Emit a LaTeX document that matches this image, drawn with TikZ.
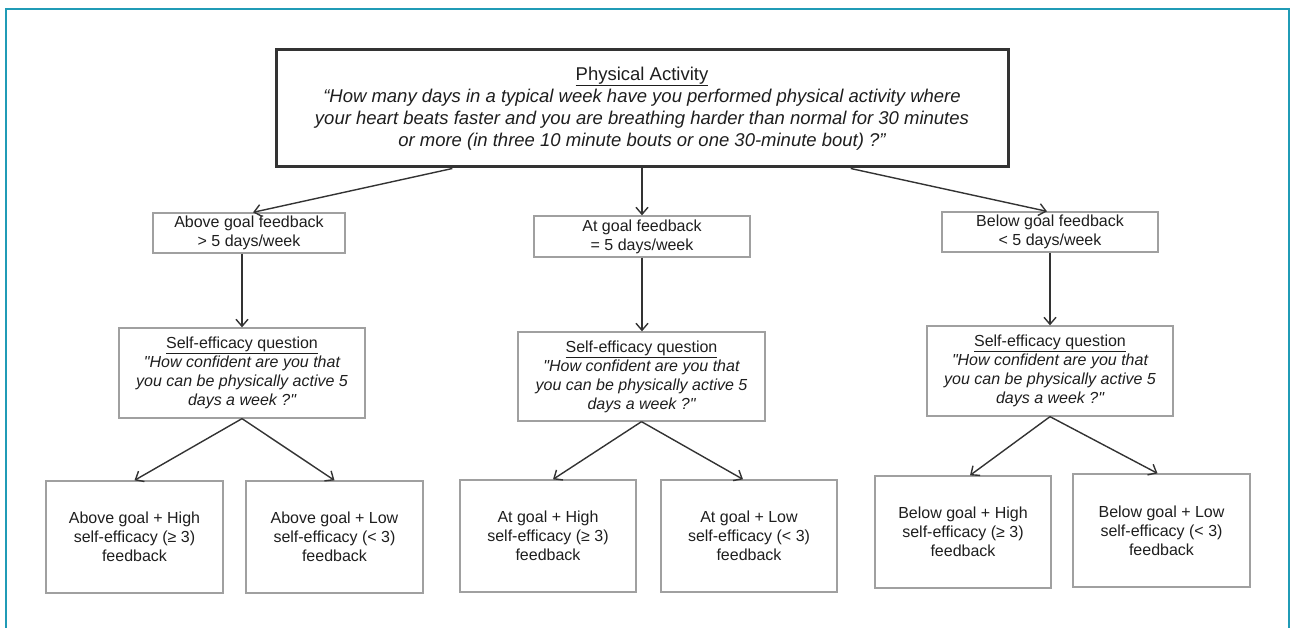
\documentclass[tikz,border=0pt]{standalone}
\usepackage{fontspec}
\setmainfont{Liberation Sans}[Ligatures=TeXOff]
\usetikzlibrary{arrows.meta,calc}
\definecolor{framecol}{RGB}{32,155,182}
\definecolor{boxgray}{RGB}{160,160,160}
\definecolor{dark}{RGB}{51,51,51}
\definecolor{txt}{RGB}{30,30,30}
\begin{document}
\begin{tikzpicture}[x=1pt,y=-1pt,
  gbox/.style={draw=boxgray, line width=1.3pt, align=center, inner sep=0pt,
    text=txt, font=\fontsize{16}{19}\selectfont},
  topbox/.style={draw=dark, line width=3pt, align=center, inner sep=0pt,
    text=txt, font=\fontsize{18.5}{22}\selectfont},
  arr/.style={draw=dark, line width=1.4pt, -{Straight Barb[length=7pt,width=12pt]}}
]
\useasboundingbox (0,0) rectangle (1290,628);
\draw[framecol, line width=2.2pt] (6,630) -- (6,9) -- (1289,9) -- (1289,630);

\node[topbox, minimum width=732pt, minimum height=117pt] (top) at (642,108.5)
  {\underline{Physical Activity}\\
   \itshape “How many days in a typical week have you performed physical activity where\\
   \itshape your heart beats faster and you are breathing harder than normal for 30 minutes\\
   \itshape or more (in three 10 minute bouts or one 30-minute bout) ?”};

\node[gbox, minimum width=192pt, minimum height=40pt] (above) at (249,233)
  {Above goal feedback\\ > 5 days/week};
\node[gbox, minimum width=216pt, minimum height=41pt] (atgoal) at (642,236.5)
  {At goal feedback\\ = 5 days/week};
\node[gbox, minimum width=216pt, minimum height=40pt] (below) at (1050,232)
  {Below goal feedback\\ < 5 days/week};

\node[gbox, minimum width=246pt, minimum height=90pt] (se1) at (242,373)
  {\underline{Self-efficacy question}\\
   \itshape "How confident are you that\\ \itshape you can be physically active 5\\ \itshape days a week ?"};
\node[gbox, minimum width=247pt, minimum height=89pt] (se2) at (641.5,376.5)
  {\underline{Self-efficacy question}\\
   \itshape "How confident are you that\\ \itshape you can be physically active 5\\ \itshape days a week ?"};
\node[gbox, minimum width=246pt, minimum height=90pt] (se3) at (1050,371)
  {\underline{Self-efficacy question}\\
   \itshape "How confident are you that\\ \itshape you can be physically active 5\\ \itshape days a week ?"};

\node[gbox, minimum width=177pt, minimum height=112pt] (b1) at (134.5,537)
  {Above goal + High\\ self-efficacy (≥ 3)\\ feedback};
\node[gbox, minimum width=177pt, minimum height=112pt] (b2) at (334.5,537)
  {Above goal + Low\\ self-efficacy (< 3)\\ feedback};
\node[gbox, minimum width=176pt, minimum height=112pt] (b3) at (548,536)
  {At goal + High\\ self-efficacy (≥ 3)\\ feedback};
\node[gbox, minimum width=176pt, minimum height=112pt] (b4) at (749,536)
  {At goal + Low\\ self-efficacy (< 3)\\ feedback};
\node[gbox, minimum width=176pt, minimum height=112pt] (b5) at (963,532)
  {Below goal + High\\ self-efficacy (≥ 3)\\ feedback};
\node[gbox, minimum width=177pt, minimum height=113pt] (b6) at (1161.5,530.5)
  {Below goal + Low\\ self-efficacy (< 3)\\ feedback};

\draw[arr] ($(top.south west)!0.242!(top.south east)$) -- ($(above.north)+(4,0)$);
\draw[arr] (top.south) -- (atgoal.north);
\draw[arr] ($(top.south west)!0.784!(top.south east)$) -- ($(below.north)+(-3,0)$);

\draw[arr] (above.south -| se1.north) -- (se1.north);
\draw[arr] (atgoal.south) -- (atgoal.south |- se2.north);
\draw[arr] (below.south) -- (se3.north);

\draw[arr] (se1.south) -- (b1.north);
\draw[arr] (se1.south) -- (b2.north);
\draw[arr] (se2.south) -- ($(b3.north)+(5,0)$);
\draw[arr] (se2.south) -- ($(b4.north)+(-6,0)$);
\draw[arr] (se3.south) -- ($(b5.north)+(7,0)$);
\draw[arr] (se3.south) -- ($(b6.north)+(-4,0)$);
\end{tikzpicture}
\end{document}
